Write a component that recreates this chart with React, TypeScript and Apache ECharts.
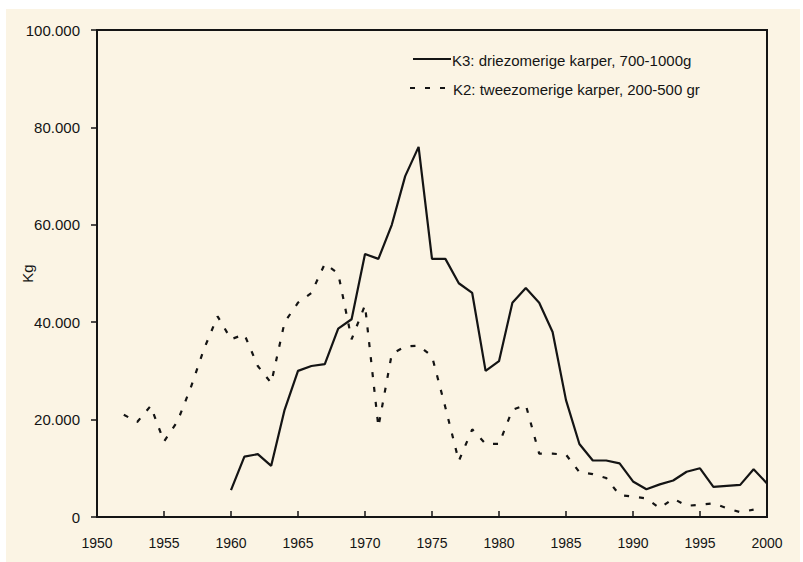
import React, { useEffect, useRef } from "react";
import * as echarts from "echarts";

const k3Years = [
  1960, 1961, 1962, 1963, 1964, 1965, 1966, 1967, 1968, 1969,
  1970, 1971, 1972, 1973, 1974, 1975, 1976, 1977, 1978, 1979,
  1980, 1981, 1982, 1983, 1984, 1985, 1986, 1987, 1988, 1989,
  1990, 1991, 1992, 1993, 1994, 1995, 1996, 1997, 1998, 1999, 2000,
];
const k3Values = [
  5500, 12400, 12900, 10500, 22000, 30000, 31000, 31400, 38700, 40600,
  54000, 53000, 60000, 70000, 76000, 53000, 53000, 48000, 46000, 30000,
  32000, 44000, 47000, 44000, 38000, 24000, 15000, 11600, 11600, 11000,
  7300, 5700, 6700, 7500, 9300, 10000, 6200, 6400, 6600, 9800, 6900,
];

const k2Years = [
  1952, 1953, 1954, 1955, 1956, 1957, 1958, 1959,
  1960, 1961, 1962, 1963, 1964, 1965, 1966, 1967, 1968, 1969,
  1970, 1971, 1972, 1973, 1974, 1975, 1976, 1977, 1978, 1979,
  1980, 1981, 1982, 1983, 1984, 1985, 1986, 1987, 1988, 1989,
  1990, 1991, 1992, 1993, 1994, 1995, 1996, 1997, 1998, 1999,
];
const k2Values = [
  21000, 19500, 22800, 15500, 19600, 26600, 34600, 41200,
  36500, 37500, 31000, 27500, 40000, 44000, 46000, 52000, 50000, 36500,
  43500, 18500, 33500, 35000, 35200, 33000, 22500, 11500, 18000, 15000,
  15000, 22000, 23000, 13000, 13000, 12800, 9200, 8800, 8000, 4500,
  4200, 3800, 1800, 3800, 2300, 2500, 2800, 1800, 1000, 1500,
];

const seriesNames = [
  "K3: driezomerige karper, 700-1000g",
  "K2: tweezomerige karper, 200-500 gr",
];

const FONT = "'Liberation Sans', Arial, sans-serif";
const INK = "#141414";
const DASH = [5, 10];

export default function App() {
  const ref = useRef<HTMLDivElement>(null);

  useEffect(() => {
    if (!ref.current) return;
    const chart = echarts.init(ref.current, undefined, { renderer: "svg" });
    const k3 = k3Years.map((y, i) => [y, k3Values[i]]);
    const k2 = k2Years.map((y, i) => [y, k2Values[i]]);

    chart.setOption({
      animation: false,
      backgroundColor: "#ffffff",
      graphic: [
        {
          type: "rect",
          z: -10,
          silent: true,
          shape: { x: 6, y: 9, width: 794, height: 553 },
          style: { fill: "#FBF4E4" },
        },
        {
          type: "line",
          silent: true,
          shape: { x1: 413, y1: 59, x2: 451, y2: 59 },
          style: { stroke: INK, lineWidth: 2.2 },
        },
        {
          type: "text",
          silent: true,
          x: 452,
          y: 60,
          style: {
            text: seriesNames[0],
            font: `15px ${FONT}`,
            fill: INK,
            verticalAlign: "middle",
          },
        },
        {
          type: "line",
          silent: true,
          shape: { x1: 410, y1: 88, x2: 452, y2: 88 },
          style: { stroke: INK, lineWidth: 2.2, lineDash: DASH },
        },
        {
          type: "text",
          silent: true,
          x: 453,
          y: 89,
          style: {
            text: seriesNames[1],
            font: `15px ${FONT}`,
            fill: INK,
            verticalAlign: "middle",
          },
        },
      ],
      grid: {
        left: 97,
        top: 30,
        right: 36,
        bottom: 45,
        containLabel: false,
        outerBoundsMode: "none",
        show: true,
        borderColor: INK,
        borderWidth: 2,
        backgroundColor: "transparent",
      },
      legend: { show: false },
      xAxis: {
        type: "value",
        min: 1950,
        max: 2000,
        interval: 5,
        axisLine: { show: true, lineStyle: { color: INK, width: 2 } },
        axisTick: { show: true, inside: true, length: 6, lineStyle: { color: INK, width: 1.5 } },
        splitLine: { show: false },
        axisLabel: {
          fontFamily: FONT,
          fontSize: 14,
          color: INK,
          margin: 19,
          formatter: (v: number) => String(v),
        },
      },
      yAxis: {
        type: "value",
        min: 0,
        max: 100000,
        interval: 20000,
        name: "Kg",
        nameLocation: "middle",
        nameGap: 62,
        nameMoveOverlap: false,
        nameTextStyle: { fontFamily: FONT, fontSize: 15, color: INK },
        axisLine: { show: true, lineStyle: { color: INK, width: 2 } },
        axisTick: { show: true, inside: false, length: 6, lineStyle: { color: INK, width: 1.5 } },
        splitLine: { show: false },
        axisLabel: {
          fontFamily: FONT,
          fontSize: 15,
          color: INK,
          margin: 17,
          formatter: (v: number) =>
            v === 0 ? "0" : (v / 1000).toFixed(0) + ".000",
        },
      },
      series: [
        {
          name: seriesNames[0],
          type: "line",
          data: k3,
          symbol: "none",
          lineStyle: { color: INK, width: 2.2, type: "solid" },
          itemStyle: { color: INK },
        },
        {
          name: seriesNames[1],
          type: "line",
          data: k2,
          symbol: "none",
          lineStyle: { color: INK, width: 2.2, type: DASH },
          itemStyle: { color: INK },
        },
      ],
    });

    return () => chart.dispose();
  }, []);

  return (
    <div
      ref={ref}
      style={{ position: "absolute", left: 0, top: 0, width: 803, height: 562 }}
    />
  );
}
